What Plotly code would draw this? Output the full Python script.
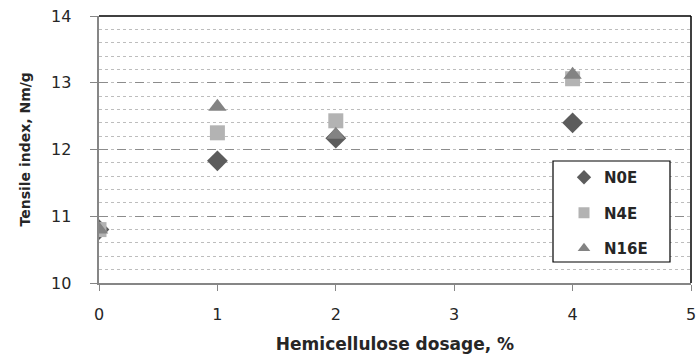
import plotly.graph_objects as go

# Hemicellulose dosage (%) and tensile index (Nm/g) for each series
dosage = [0, 1, 2, 4]
n0e = [10.80, 11.83, 12.17, 12.40]
n4e = [10.80, 12.25, 12.43, 13.06]
n16e = [10.80, 12.64, 12.22, 13.12]

y_ticks = [10, 11, 12, 13, 14]

series = [
    ("N0E", n0e, "diamond", "#5c5c5c", 16),
    ("N4E", n4e, "square", "#b3b3b3", 15),
    ("N16E", n16e, "triangle-up", "#838383", 16),
]

fig = go.Figure()
for name, vals, sym, col, sz in series:
    # data markers
    fig.add_trace(go.Scatter(
        x=dosage, y=vals, mode="markers", name=name, showlegend=False,
        marker=dict(symbol=sym, color=col, size=sz, line=dict(width=0)),
    ))
for name, vals, sym, col, sz in series:
    # legend entries with smaller symbols
    fig.add_trace(go.Scatter(
        x=[None], y=[None], mode="markers", name=name, legendgroup=name,
        marker=dict(symbol=sym, color=col, size=11, line=dict(width=0)),
    ))

tick_font = dict(family="DejaVu Sans", size=16, color="#262626")

# y tick labels set further out from the axis line
annotations = [
    dict(text=str(v), x=0, y=v, xref="paper", yref="y", xanchor="right",
         yanchor="middle", xshift=-26, showarrow=False, font=tick_font)
    for v in y_ticks
]
annotations.append(dict(
    text="<b>Tensile index, Nm/g</b>", textangle=-90, showarrow=False,
    x=0, y=0.5, xref="paper", yref="paper", xanchor="center", yanchor="middle",
    xshift=-75, font=dict(family="DejaVu Sans", size=14, color="#262626"),
))

fig.update_layout(
    width=699, height=360,
    margin=dict(l=99, r=8, t=16, b=77),
    paper_bgcolor="white", plot_bgcolor="white",
    showlegend=True,
    legend=dict(
        x=(564 - 99) / 592, y=(283 - 161) / 267, xanchor="left", yanchor="top",
        borderwidth=0, bgcolor="rgba(0,0,0,0)",
        font=dict(family="DejaVu Sans", size=15, color="#262626", weight="bold"),
        traceorder="grouped", tracegroupgap=13,
    ),
    xaxis=dict(
        range=[0, 5], dtick=1, tick0=0,
        showgrid=False, zeroline=False, automargin=False,
        showline=True, linecolor="#868686", linewidth=1.5,
        ticks="outside", ticklen=6, tickcolor="#868686",
        tickfont=tick_font, ticklabelstandoff=10,
        title=dict(text="<b>Hemicellulose dosage, %</b>",
                   font=dict(family="DejaVu Sans", size=17, color="#262626"), standoff=15),
    ),
    yaxis=dict(
        range=[10, 14], tickvals=y_ticks, showticklabels=False,
        showgrid=True, gridcolor="#8c8c8c", gridwidth=1, griddash="dash",
        minor=dict(dtick=0.2, showgrid=True, gridcolor="#bdbdbd", gridwidth=1, griddash="dot"),
        zeroline=False, automargin=False,
        showline=True, linecolor="#868686", linewidth=1.5,
        ticks="outside", ticklen=7, tickcolor="#868686",
    ),
    annotations=annotations,
    shapes=[
        dict(type="line", xref="paper", yref="paper", x0=0, x1=1, y0=1, y1=1,
             line=dict(color="black", width=1.5)),
        dict(type="line", xref="paper", yref="paper", x0=1, x1=1, y0=0, y1=1,
             line=dict(color="black", width=1.5)),
        # legend frame
        dict(type="rect", xref="paper", yref="paper", layer="above",
             x0=(553 - 99) / 592, x1=(670 - 99) / 592,
             y0=(283 - 262) / 267, y1=(283 - 161) / 267,
             fillcolor="white", line=dict(color="black", width=1.2)),
    ],
)

fig.write_html("out.html")
